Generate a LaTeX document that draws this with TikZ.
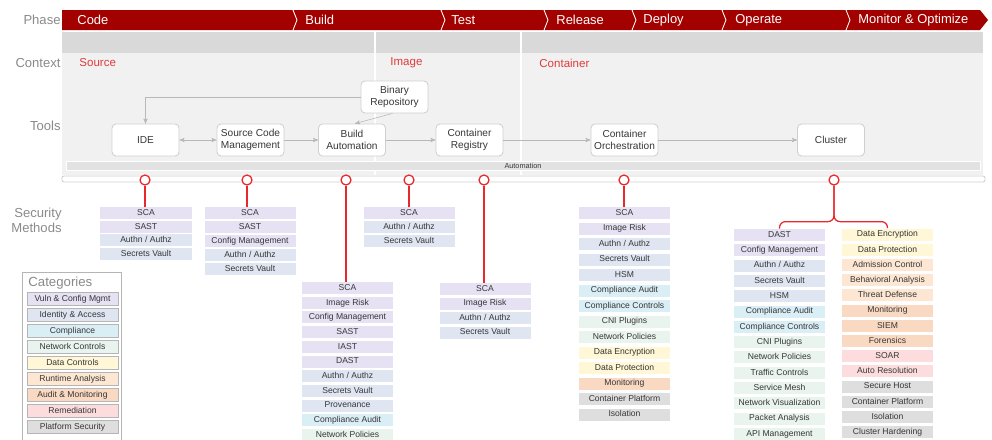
\documentclass[tikz,border=0pt]{standalone}
\usepackage{fontspec}
\setmainfont{Liberation Sans}
\usetikzlibrary{positioning, calc, arrows}
\definecolor{phasered}{HTML}{A30000}
\definecolor{secred}{HTML}{E8282B}
\definecolor{ctxred}{HTML}{E03A3A}
\definecolor{lblgray}{HTML}{8A8A8A}
\definecolor{hdrgray}{HTML}{D9D9D9}
\definecolor{ltgray}{HTML}{F1F1F1}
\definecolor{autogray}{HTML}{E2E2E2}
\definecolor{toolgray}{HTML}{CFCFCF}
\definecolor{arrgray}{HTML}{B8B8B8}
\definecolor{txtdark}{HTML}{363636}
\definecolor{catborder}{HTML}{B5B5B5}
\definecolor{cvuln}{HTML}{E6E2F4}
\definecolor{cident}{HTML}{DFE6F2}
\definecolor{ccompl}{HTML}{DAEEF6}
\definecolor{cnet}{HTML}{EAF4EF}
\definecolor{cdata}{HTML}{FFF7D6}
\definecolor{cruntime}{HTML}{FDE7D2}
\definecolor{caudit}{HTML}{FAD9C2}
\definecolor{cremedy}{HTML}{FCDCDC}
\definecolor{cplatform}{HTML}{DEDEDE}

\begin{document}
\begin{tikzpicture}[x=0.25mm, y=-0.25mm, >=stealth', semithick,
  lbl/.style={text=lblgray, inner sep=0, anchor=east, align=right, font=\fontsize{9.3}{10.7}\selectfont},
  ctx/.style={text=ctxred, inner sep=0, anchor=west, font=\fontsize{8.2}{9}\selectfont},
  phase/.style={text=white, inner sep=0, anchor=west, font=\fontsize{9.2}{10}\selectfont},
  tool/.style={draw=toolgray, fill=white, rounded corners=1mm, minimum width=16.75mm, minimum height=8mm, inner sep=0, align=center, text=txtdark, font=\fontsize{7.2}{8.6}\selectfont},
  flow/.style={->, draw=arrgray, thin},
  item/.style={minimum width=22.75mm, minimum height=3mm, inner sep=0, text height=4.6pt, text depth=1.3pt, text=txtdark, font=\fontsize{6.1}{7}\selectfont},
  catitem/.style={item, minimum height=3.25mm, draw=catborder, line width=0.5pt},
  dot/.style={circle, draw=secred, fill=white, line width=0.9pt, minimum size=2.5mm, inner sep=0},
  redline/.style={draw=secred, line width=0.9pt},
  vulnmgmt/.style={fill=cvuln},
  identity/.style={fill=cident},
  compliance/.style={fill=ccompl},
  netctl/.style={fill=cnet},
  datactl/.style={fill=cdata},
  runtime/.style={fill=cruntime},
  auditmon/.style={fill=caudit},
  remedy/.style={fill=cremedy},
  platform/.style={fill=cplatform}]
  \useasboundingbox (0,0) rectangle (992,439);

  % phase bar
  \fill[phasered] (62,10) -- (980,10) -- (988,20) -- (980,30) -- (62,30) -- cycle;
  \foreach \x in {293,441,544,632,722,846}
    \draw[white, line width=0.6pt] (\x,10) -- (\x+4,20) -- (\x,30);
  \node[phase] (pcode) at (77,20) {Code};
  \node[phase] (pbuild) at (305,20) {Build};
  \node[phase] (ptest) at (451,20) {Test};
  \node[phase] (prelease) at (556,20) {Release};
  \node[phase] (pdeploy) at (643,20) {Deploy};
  \node[phase] (poperate) at (735,20) {Operate};
  \node[phase] (pmonitor) at (858,20) {Monitor \& Optimize};

  % context area
  \fill[ltgray] (62,32) rectangle (983,175);
  \fill[hdrgray] (62,32) rectangle (983,53);
  \draw[white, line width=1pt] (375,32) -- (375,175) (521,32) -- (521,175);
  \node[ctx] (xsource) at (79,63) {Source};
  \node[ctx] (ximage) at (390,63) {Image};
  \node[ctx] (xcontainer) at (539,63) {Container};

  % row labels
  \node[lbl] (lphase) at (61,20) {Phase};
  \node[lbl] (lcontext) at (61,63) {Context};
  \node[lbl] (ltools) at (61,126) {Tools};
  \node[lbl] (lsecurity) at (62,220.5) {Security\\Methods};

  % automation bar and strip
  \draw[draw=white, fill=autogray] (66,161) rectangle (980,170);
  \node[text=txtdark, inner sep=0, font=\fontsize{5.2}{6}\selectfont] (automation) at (523,165.5) {Automation};
  \draw[draw=toolgray, fill=white, rounded corners=0.5mm] (62,176) rectangle (985,182);

  % tools
  \node[tool] (ide) at (145.5,140) {IDE};
  \node[tool] (scm) at (250.5,140) {Source Code\\Management};
  \node[tool] (build) at (352,140) {Build\\Automation};
  \node[tool] (registry) at (469.5,140) {Container\\Registry};
  \node[tool] (orch) at (624.5,140) {Container\\Orchestration};
  \node[tool] (cluster) at (831,140) {Cluster};
  \node[tool] (binrepo) at (394.5,97) {Binary\\Repository};
  \draw[flow, <->] (ide) -- (scm);
  \draw[flow] (scm) -- (build);
  \draw[flow] (build) -- (registry);
  \draw[flow] (registry) -- (orch);
  \draw[flow] (orch) -- (cluster);
  \draw[flow] ([xshift=-0.5mm]binrepo.south) -- ([xshift=0.75mm]build.north);
  \draw[flow] (binrepo.west) -| (ide.north);

  % security methods
  \foreach \t/\s [count=\i] in {SCA/vulnmgmt, SAST/vulnmgmt, {Authn / Authz}/identity, Secrets Vault/identity}
    \node[item, \s] (ide\i) at (146,{213+13.7*(\i-1)}) {\t};
  \foreach \t/\s [count=\i] in {SCA/vulnmgmt, SAST/vulnmgmt, Config Management/vulnmgmt, {Authn / Authz}/identity, Secrets Vault/identity}
    \node[item, \s] (scm\i) at (250,{213+14*(\i-1)}) {\t};
  \foreach \t/\s [count=\i] in {SCA/vulnmgmt, Image Risk/vulnmgmt, Config Management/vulnmgmt, SAST/vulnmgmt, IAST/vulnmgmt, DAST/vulnmgmt, {Authn / Authz}/identity, Secrets Vault/identity, Provenance/identity, Compliance Audit/compliance, Network Policies/netctl}
    \node[item, \s] (bld\i) at (347.5,{288+14.7*(\i-1)}) {\t};
  \foreach \t/\s [count=\i] in {SCA/vulnmgmt, {Authn / Authz}/identity, Secrets Vault/identity}
    \node[item, \s] (bin\i) at (409,{213+14*(\i-1)}) {\t};
  \foreach \t/\s [count=\i] in {SCA/vulnmgmt, Image Risk/vulnmgmt, {Authn / Authz}/identity, Secrets Vault/identity}
    \node[item, \s] (reg\i) at (485,{289+14.5*(\i-1)}) {\t};
  \foreach \t/\s [count=\i] in {SCA/vulnmgmt, Image Risk/vulnmgmt, {Authn / Authz}/identity, Secrets Vault/identity, HSM/identity, Compliance Audit/compliance, Compliance Controls/compliance, CNI Plugins/netctl, Network Policies/netctl, Data Encryption/datactl, Data Protection/datactl, Monitoring/auditmon, Container Platform/platform, Isolation/platform}
    \node[item, \s] (orc\i) at (624.5,{213+15.5*(\i-1)}) {\t};
  \foreach \t/\s [count=\i] in {DAST/vulnmgmt, Config Management/vulnmgmt, {Authn / Authz}/identity, Secrets Vault/identity, HSM/identity, Compliance Audit/compliance, Compliance Controls/compliance, CNI Plugins/netctl, Network Policies/netctl, Traffic Controls/netctl, Service Mesh/netctl, Network Visualization/netctl, Packet Analysis/netctl, API Management/netctl}
    \node[item, \s] (cll\i) at (779.5,{235+15.3*(\i-1)}) {\t};
  \foreach \t/\s [count=\i] in {Data Encryption/datactl, Data Protection/datactl, Admission Control/runtime, Behavioral Analysis/runtime, Threat Defense/runtime, Monitoring/auditmon, SIEM/auditmon, Forensics/auditmon, SOAR/remedy, Auto Resolution/remedy, Secure Host/platform, Container Platform/platform, Isolation/platform, Cluster Hardening/platform}
    \node[item, \s] (clr\i) at (887.5,{234.5+15.2*(\i-1)}) {\t};

  % red markers
  \foreach \n/\x in {ide/145, scm/247, bld/346, bin/409, reg/484, orc/624, clu/834}
    \node[dot] (c\n) at (\x,180) {};
  \draw[redline] (cide) -- (cide |- ide1.north);
  \draw[redline] (cscm) -- (cscm |- scm1.north);
  \draw[redline] (cbld) -- (cbld |- bld1.north);
  \draw[redline] (cbin) -- (cbin |- bin1.north);
  \draw[redline] (creg) -- (creg |- reg1.north);
  \draw[redline] (corc) -- (corc |- orc1.north);
  \draw[redline, rounded corners=1.5mm] (cclu.south) -- ++(0,36) -| (cll1.north);
  \draw[redline, rounded corners=1.5mm] (cclu.south) -- ++(0,36) -| (clr1.north);

  % categories
  \draw[draw=catborder, fill=white] (22,272) rectangle (121,445);
  \node[text=lblgray, inner sep=0, anchor=west, font=\fontsize{9.4}{10}\selectfont] (cattitle) at (28,283) {Categories};
  \foreach \t/\s [count=\i] in {Vuln \& Config Mgmt/vulnmgmt, Identity \& Access/identity, Compliance/compliance, Network Controls/netctl, Data Controls/datactl, Runtime Analysis/runtime, Audit \& Monitoring/auditmon, Remediation/remedy, Platform Security/platform}
    \node[catitem, \s] (cat\i) at (72.5,{299+16*(\i-1)}) {\t};
\end{tikzpicture}
\end{document}
